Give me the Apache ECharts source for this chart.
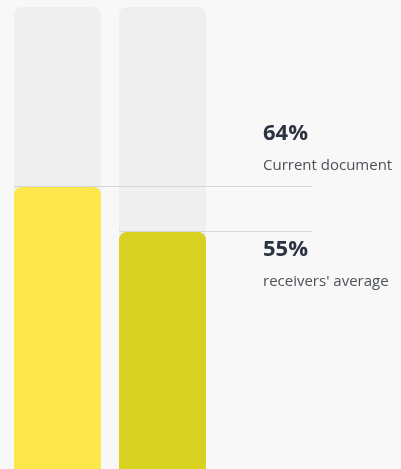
<!DOCTYPE html>
<html>
<head>
<meta charset="utf-8">
<script src="https://cdn.jsdelivr.net/npm/echarts@6/dist/echarts.min.js"></script>
<style>
  html, body { margin: 0; padding: 0; background: #f8f8f8; }
  #chart { width: 401px; height: 469px; }
</style>
</head>
<body>
<div id="chart"></div>
<script>
const categories = ["current", "average"];
const values = [64, 55];
const valueLabels = ["64%", "55%"];
const captions = ["Current document", "receivers' average"];
const barColors = ["#fde84b", "#d8d11f"];

const BAR_W = 87;
const LINE_END = 312;
const TEXT_X = 263;

const chart = echarts.init(document.getElementById("chart"));

chart.setOption({
  animation: false,
  backgroundColor: "#f8f8f8",
  // the bars run past the bottom edge, so let the grid overflow the canvas
  grid: { left: 5, top: 7, width: 210, height: 500, outerBoundsMode: "none" },
  xAxis: { type: "category", data: categories, show: false },
  yAxis: { type: "value", min: 0, max: 100, show: false },
  series: [
    {
      type: "bar",
      barWidth: BAR_W,
      showBackground: true,
      backgroundStyle: { color: "#efefef", borderRadius: 8 },
      data: values.map((v, i) => ({
        value: v,
        itemStyle: { color: barColors[i], borderRadius: [8, 8, 0, 0] },
      })),
    },
    {
      type: "custom",
      clip: false,
      z: 5,
      data: values.map((v, i) => [i, v]),
      renderItem: (params, api) => {
        const i = params.dataIndex;
        const p = api.coord([api.value(0), api.value(1)]);
        const y = Math.round(p[1]) - 0.5;
        // first label sits above its line, second below
        const above = i === 0;
        const tY = above ? y - 42 : y + 29;
        return {
          type: "group",
          children: [
            {
              type: "line",
              shape: { x1: p[0] - BAR_W / 2, y1: y, x2: LINE_END, y2: y },
              style: { stroke: "#d3d6da", lineWidth: 1 },
            },
            {
              type: "text",
              x: TEXT_X,
              y: tY,
              style: {
                text: valueLabels[i],
                font: "bold 22px 'Open Sans'",
                fill: "#2b3340",
                align: "left",
                verticalAlign: "bottom",
              },
            },
            {
              type: "text",
              x: TEXT_X,
              y: tY + 29,
              style: {
                text: captions[i],
                font: "15px 'Open Sans'",
                fill: "#4d5259",
                align: "left",
                verticalAlign: "bottom",
              },
            },
          ],
        };
      },
    },
  ],
});
</script>
</body>
</html>
